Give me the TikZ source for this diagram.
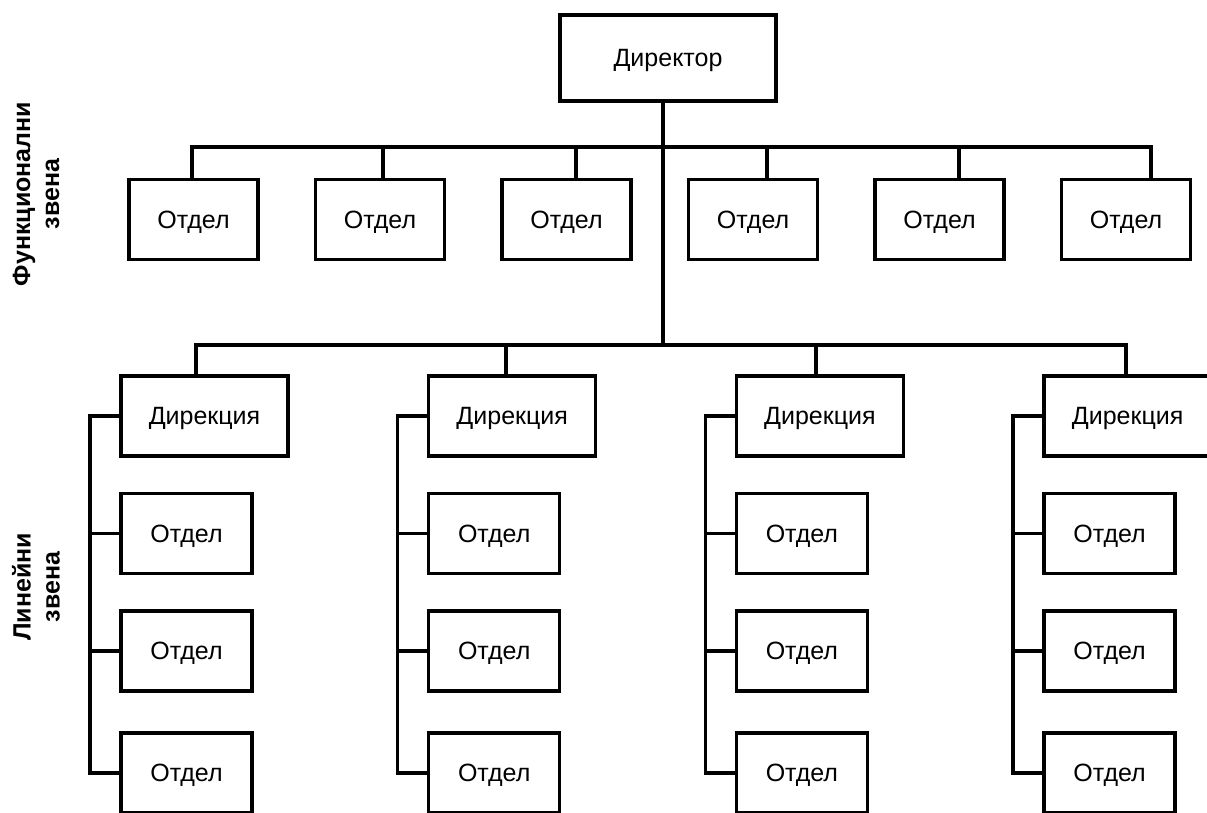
\documentclass[tikz,border=0pt]{standalone}
\usepackage{fontspec}
\setmainfont{Liberation Sans}
\begin{document}
\begin{tikzpicture}[x=1pt, y=-1pt,
    box/.style={draw, line width=3.5pt, minimum width=129pt, minimum height=80pt, inner sep=0pt, text depth=0pt, font=\fontsize{25}{29}\selectfont},
    link/.style={line width=3.5pt, line cap=rect},
    side/.style={rotate=90, align=center, font=\fontsize{25}{29}\selectfont\bfseries}]
  \clip (0,0) rectangle (1207,813);
  % director
  \node[box, minimum width=216pt, minimum height=86pt] (dir) at (668,58) {Директор};
  \coordinate (trunk) at (663,345);
  \draw[link] (dir.south -| trunk) -- (trunk);
  % functional units
  \foreach \i/\sx in {0/192,1/383,2/576,3/767,4/959,5/1151} {
    \node[box] (f\i) at ({193.5+186.5*\i},219.5) {Отдел};
    \coordinate (ft\i) at (\sx,147);
    \draw[link] (ft\i) -- (ft\i |- f\i.north);
  }
  \draw[link] (ft0) -- (ft5);
  % line units
  \foreach \c in {0,...,3} {
    \node[box, minimum width=167pt] (d\c) at ({204.5+307.7*\c},416) {Дирекция};
    \coordinate (dt\c) at ({196+310*\c},345);
    \draw[link] (dt\c) -- (dt\c |- d\c.north);
    \coordinate (k\c) at ({90+307.7*\c},416);
    \foreach \r/\ry in {1/533.5,2/651,3/773} {
      \node[box, minimum width=131pt] (o\c\r) at ({186.5+307.7*\c},\ry) {Отдел};
      \draw[link] (o\c\r.west) -- (o\c\r.west -| k\c);
    }
    \draw[link] (d\c.west) -- (k\c) -- (k\c |- o\c3.west);
  }
  \draw[link] (dt0) -- (dt3);
  % side labels
  \node[side] (fz) at (36,194) {Функционални\\звена};
  \node[side] (lz) at (36,587) {Линейни\\звена};
\end{tikzpicture}
\end{document}
